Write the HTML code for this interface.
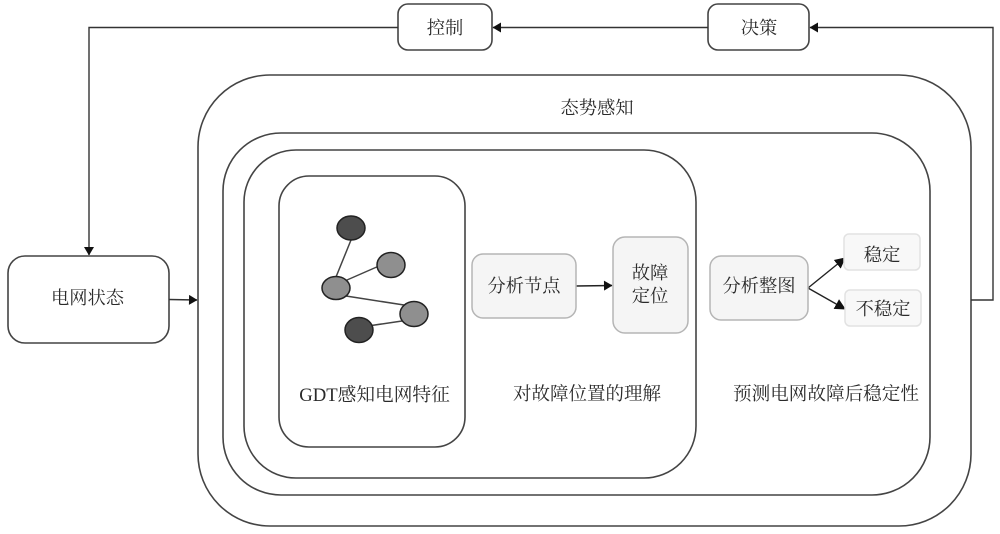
<!DOCTYPE html>
<html>
<head>
<meta charset="utf-8">
<style>
html,body{margin:0;padding:0;background:#fff;}
svg{display:block;}
text{font-family:"Liberation Serif","Noto Serif CJK SC",serif;fill:#2a2a2a;text-anchor:middle;}
</style>
</head>
<body>
<svg width="1000" height="534" viewBox="0 0 1000 534" xmlns="http://www.w3.org/2000/svg">
<rect width="1000" height="534" fill="#fff"/>
<defs>
<marker id="a" markerWidth="10" markerHeight="10" refX="9" refY="5" orient="auto" markerUnits="userSpaceOnUse"><path d="M1,0L9.500,5L1,10Z" fill="#111"/></marker>
<marker id="b" markerWidth="12" markerHeight="12" refX="10" refY="6" orient="auto" markerUnits="userSpaceOnUse"><path d="M0,0.500L11,6L0,11.500Z" fill="#111"/></marker>
</defs>
<g fill="none" stroke="#444" stroke-width="1.6">
<rect x="198" y="75" width="773" height="451" rx="72"/>
<rect x="223" y="133" width="707" height="362" rx="58"/>
<rect x="244" y="150" width="452" height="328" rx="52"/>
<rect x="279" y="176" width="186" height="271" rx="30"/>
<rect x="398" y="4" width="94" height="46" rx="10"/>
<rect x="708" y="4" width="101" height="46" rx="10"/>
<rect x="8" y="256" width="161" height="87" rx="17"/>
</g>
<g fill="none" stroke="#333" stroke-width="1.4">
<path d="M398,27.500H89V255" marker-end="url(#a)"/>
<path d="M708,27.500H493" marker-end="url(#a)"/>
<path d="M971,300H993V27.500H810" marker-end="url(#a)"/>
<path d="M169,299.500L197,300" marker-end="url(#a)"/>
<path d="M576,286L612,285.500" marker-end="url(#a)" stroke="#222"/>
<path d="M808,288L845,258" marker-end="url(#b)" stroke="#222"/>
<path d="M808,288L845,309" marker-end="url(#b)" stroke="#222"/>
</g>
<g stroke="#444" stroke-width="1.500">
<line x1="351" y1="240" x2="336" y2="277"/>
<line x1="347" y1="280" x2="379" y2="266"/>
<line x1="346" y1="296" x2="404" y2="305"/>
<line x1="368" y1="326" x2="402" y2="321"/>
</g>
<g stroke="#222" stroke-width="1.500">
<ellipse cx="351" cy="228" rx="14" ry="12" fill="#4d4d4d"/>
<ellipse cx="391" cy="265" rx="14" ry="12.500" fill="#8f8f8f"/>
<ellipse cx="336" cy="288" rx="14" ry="11.500" fill="#8f8f8f"/>
<ellipse cx="414" cy="314" rx="14" ry="12.500" fill="#8f8f8f"/>
<ellipse cx="359" cy="330" rx="14" ry="12.500" fill="#4d4d4d"/>
</g>
<g fill="#f5f5f5" stroke="#b5b5b5" stroke-width="1.500">
<rect x="472" y="254" width="104" height="64" rx="11"/>
<rect x="613" y="237" width="75" height="96" rx="12"/>
<rect x="710" y="256" width="98" height="64" rx="11"/>
</g>
<g fill="#f8f8f8" stroke="#e2e2e2" stroke-width="1.500">
<rect x="844" y="234" width="76" height="36" rx="5"/>
<rect x="845" y="290" width="76" height="36" rx="5"/>
</g>
<g font-size="18.300">
<text x="445" y="34">控制</text>
<text x="759" y="34">决策</text>
<text x="87.500" y="304">电网状态</text>
<text x="597" y="114">态势感知</text>
<text x="374.500" y="401" font-size="18.700">GDT感知电网特征</text>
<text x="587" y="400" font-size="18.500">对故障位置的理解</text>
<text x="826" y="400" font-size="18.600">预测电网故障后稳定性</text>
<text x="524" y="292">分析节点</text>
<text x="650" y="279">故障</text>
<text x="650" y="302">定位</text>
<text x="759" y="292">分析整图</text>
<text x="882" y="261">稳定</text>
<text x="883" y="315">不稳定</text>
</g>
</svg>
</body>
</html>
